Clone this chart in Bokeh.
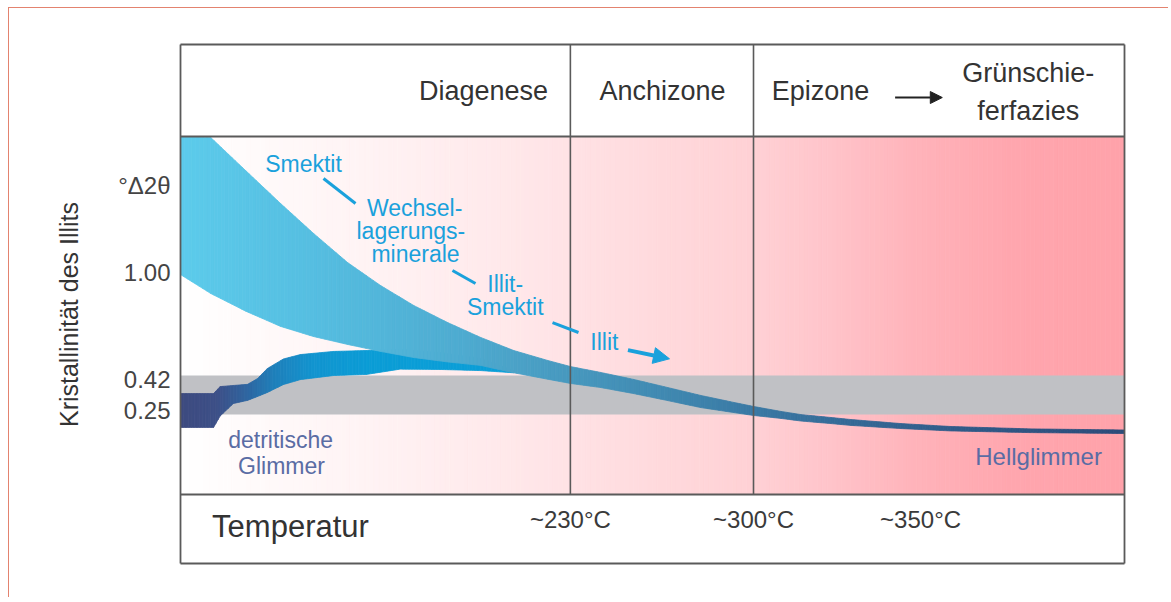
import numpy as np
from bokeh.plotting import figure
from bokeh.models import Range1d, FixedTicker, CustomJSTickFormatter, Arrow, NormalHead
from bokeh.core.properties import value
from bokeh.embed import file_html
from bokeh.resources import INLINE

# ---------------- data ----------------
# x: schematic metamorphic progress (0 = left edge, 100 = right edge)
# y: illite crystallinity in °Δ2θ
zone_names = ["Diagenese", "Anchizone", "Epizone"]
zone_edges = [0.0, 41.3, 60.7, 100.0]
facies_names = ["Grünschie-", "ferfazies"]
temp_labels = ["~230°C", "~300°C", "~350°C"]
temp_pos = [41.3, 60.7, 78.4]
kuebler_ticks = [1.00, 0.42, 0.25]
unit_label = "°Δ2θ"
anchizone_limits = [0.228, 0.440]

clay_x = [0, 3.2, 6.9, 10.6, 14.1, 17.7, 21.2, 24.7, 28.3, 31.8, 35.3, 38.9,
          41.3, 44.5, 48.0, 51.6, 55.1, 58.6, 60.7, 63.6, 65.7, 68.9, 71.0, 76.3, 81.6, 90.0, 100]
clay_upper = [1.739, 1.734, 1.554, 1.375, 1.212, 1.054, 0.929, 0.821, 0.728, 0.647, 0.576, 0.522,
              0.489, 0.457, 0.419, 0.375, 0.332, 0.294, 0.272, 0.245, 0.228, 0.212, 0.201,
              0.179, 0.163, 0.150, 0.144]
clay_lower = [0.989, 0.886, 0.790, 0.707, 0.652, 0.609, 0.571, 0.538, 0.514, 0.495, 0.455, 0.420,
              0.397, 0.375, 0.342, 0.304, 0.266, 0.239, 0.223, 0.207, 0.193, 0.179, 0.169,
              0.152, 0.139, 0.130, 0.125]

det_x = [0, 3.5, 4.2, 5.6, 7.1, 8.15, 9.2, 10.9, 12.7, 16.2, 19.7, 23.3, 27.5, 31.8, 35.3]
det_upper = [0.342, 0.342, 0.380, 0.386, 0.392, 0.423, 0.478, 0.530, 0.554, 0.571, 0.576, 0.582, 0.565, 0.533, 0.467]
det_lower = [0.158, 0.158, 0.220, 0.288, 0.305, 0.326, 0.348, 0.391, 0.418, 0.440, 0.446, 0.475, 0.473, 0.467, 0.455]

mineral_names = ["Smektit", "Wechsel-", "lagerungs-", "minerale", "Illit-", "Smektit", "Illit"]
detrital_names = ["detritische", "Glimmer"]
final_name = ["Hellglimmer"]

# ---------------- styles / layout ----------------
FONT = "Liberation Sans"
BLUE_TXT = "#1aa1dc"
MICA_TXT = "#5a6ca4"
LINE = "#5a5a5a"

bg_stop_x = [0, 8, 20, 35, 41.3, 50, 60.7, 68, 78, 88, 100]
bg_stop_c = ["#ffffff", "#fffafa", "#fff3f4", "#ffe8ea", "#ffe2e5", "#ffdadd",
             "#ffd1d5", "#ffc5cb", "#ffb3ba", "#ffa6ae", "#ffa2aa"]
clay_stop_x = [0, 15, 30, 41, 50, 60, 72, 85, 100]
clay_stop_c = ["#5ccbeb", "#55bde0", "#4eabd0", "#4799bf", "#418bb3", "#3a7aa5",
               "#346895", "#2f5886", "#2c4c7a"]
det_stop_x = [0, 4, 7, 10, 14, 20, 36]
det_stop_c = ["#3d4a7f", "#3d5088", "#2f65a0", "#1f80bb", "#1294cf", "#0b9dd6", "#0b9fd8"]

Y_TOP_BOX = 2.239
Y_HEAD = 1.739
Y_FOOT = -0.2065
Y_BOT_BOX = -0.5815
Y_UNIT = 1.473


def hex_rgb(h):
    h = h.lstrip("#")
    return [int(h[i:i + 2], 16) for i in (0, 2, 4)]


def colour_at(xq, sx, sc):
    rgb = np.array([hex_rgb(c) for c in sc], dtype=float)
    r, g, b = (np.interp(xq, sx, rgb[:, k]) for k in range(3))
    return "#%02x%02x%02x" % (int(round(r)), int(round(g)), int(round(b)))


def band_strips(x, lo, hi, step):
    xs, ys, xm = [], [], []
    for i in range(len(x) - 1):
        n = max(1, int(np.ceil((x[i + 1] - x[i]) / step)))
        for k in range(n):
            ta, tb = k / n, (k + 1) / n
            xa = x[i] + (x[i + 1] - x[i]) * ta
            xb = x[i] + (x[i + 1] - x[i]) * tb
            la = lo[i] + (lo[i + 1] - lo[i]) * ta
            lb = lo[i] + (lo[i + 1] - lo[i]) * tb
            ha = hi[i] + (hi[i + 1] - hi[i]) * ta
            hb = hi[i] + (hi[i + 1] - hi[i]) * tb
            xs.append([xa, xb, xb, xa])
            ys.append([la, lb, hb, ha])
            xm.append(0.5 * (xa + xb))
    return xs, ys, xm


p = figure(width=1160, height=590,
           x_range=Range1d(-0.212, 100.212), y_range=Range1d(-0.7065, 2.25),
           output_backend="svg", toolbar_location=None, x_axis_location=None,
           min_border_left=169, min_border_right=43, min_border_top=34, min_border_bottom=12)
p.outline_line_color = None
p.grid.visible = False
p.background_fill_color = "white"
p.border_fill_color = "white"
p.styles = {"border-top": "1px solid #e3836f", "border-left": "1px solid #e3836f",
            "margin-left": "8px", "margin-top": "7px"}

# y axis
ax = p.yaxis[0]
ax.ticker = FixedTicker(ticks=[Y_UNIT] + kuebler_ticks)
ax.formatter = CustomJSTickFormatter(
    args=dict(unit=unit_label, ypos=Y_UNIT),
    code="return Math.abs(tick - ypos) < 1e-6 ? unit : tick.toFixed(2);")
ax.axis_line_color = None
ax.major_tick_line_color = None
ax.minor_tick_line_color = None
ax.major_tick_out = 0
ax.major_label_standoff = 8
ax.major_label_text_font = FONT
ax.major_label_text_font_size = "24px"
ax.major_label_text_color = "#444444"
ax.axis_label = "Kristallinität des Illits"
ax.axis_label_text_font = FONT
ax.axis_label_text_font_size = "25px"
ax.axis_label_text_font_style = "normal"
ax.axis_label_text_color = "#333333"
ax.axis_label_standoff = 32

# background gradient
n_bg = 200
bl = np.linspace(0, 100, n_bg + 1)
bg_cols = [colour_at(0.5 * (bl[i] + bl[i + 1]), bg_stop_x, bg_stop_c) for i in range(n_bg)]
p.quad(left=bl[:-1], right=bl[1:], bottom=Y_FOOT, top=Y_HEAD,
       fill_color=bg_cols, line_color=bg_cols, line_width=0.8)

# grey anchizone band
p.quad(left=[zone_edges[0]], right=[zone_edges[-1]],
       bottom=[anchizone_limits[0]], top=[anchizone_limits[1]],
       fill_color="#c0c1c5", line_color=None)

# detrital mica curve
dxs, dys, dxm = band_strips(det_x, det_lower, det_upper, 0.3)
dcols = [colour_at(v, det_stop_x, det_stop_c) for v in dxm]
p.patches(dxs, dys, fill_color=dcols, line_color=dcols, line_width=0.8)

# clay mineral band
cxs, cys, cxm = band_strips(clay_x, clay_lower, clay_upper, 0.4)
ccols = [colour_at(v, clay_stop_x, clay_stop_c) for v in cxm]
p.patches(cxs, cys, fill_color=ccols, line_color=ccols, line_width=0.8)

# zone divider lines
inner = zone_edges[1:-1]
p.segment(x0=inner, y0=[Y_FOOT] * len(inner), x1=inner, y1=[Y_TOP_BOX] * len(inner),
          line_color=LINE, line_width=1.6)
# table frame
p.segment(x0=[0, 0, 0, 0, 0, 100], y0=[Y_TOP_BOX, Y_HEAD, Y_FOOT, Y_BOT_BOX, Y_BOT_BOX, Y_BOT_BOX],
          x1=[100, 100, 100, 100, 0, 100], y1=[Y_TOP_BOX, Y_HEAD, Y_FOOT, Y_BOT_BOX, Y_TOP_BOX, Y_TOP_BOX],
          line_color=LINE, line_width=1.8)

# header texts
p.text(x=[32.1, 51.06, 67.8], y=[1.989] * 3, text=zone_names,
       text_font=value(FONT), text_font_size="27px", text_color="#333333",
       text_align="center", text_baseline="middle")
p.text(x=[89.8, 89.8], y=[2.082, 1.880], text=facies_names,
       text_font=value(FONT), text_font_size="27px", text_color="#333333",
       text_align="center", text_baseline="middle")
p.add_layout(Arrow(end=NormalHead(size=12, fill_color="#222222", line_color="#222222"),
                   x_start=75.7, y_start=1.951, x_end=80.7, y_end=1.951,
                   line_color="#222222", line_width=2))

# footer texts
p.text(x=[11.65], y=[-0.380], text=["Temperatur"],
       text_font=value(FONT), text_font_size="31px", text_color="#333333",
       text_align="center", text_baseline="middle")
p.text(x=temp_pos, y=[-0.342] * 3, text=temp_labels,
       text_font=value(FONT), text_font_size="24px", text_color="#3a3a3a",
       text_align="center", text_baseline="middle")

# mineral labels
p.text(x=[13.03, 24.8, 24.4, 24.9, 34.4, 34.4, 44.9],
       y=[1.592, 1.353, 1.228, 1.103, 0.935, 0.815, 0.620], text=mineral_names,
       text_font=value(FONT), text_font_size="23px", text_color=BLUE_TXT,
       text_align="center", text_baseline="middle")
p.segment(x0=[15.15, 28.81, 39.41], y0=[1.511, 1.011, 0.728],
          x1=[18.54, 31.25, 42.16], y1=[1.375, 0.940, 0.674],
          line_color=BLUE_TXT, line_width=3)
p.add_layout(Arrow(end=NormalHead(size=16, fill_color=BLUE_TXT, line_color=BLUE_TXT),
                   x_start=47.4, y_start=0.578, x_end=51.8, y_end=0.531,
                   line_color=BLUE_TXT, line_width=4))

p.text(x=[10.6, 10.7], y=[0.087, -0.054], text=detrital_names,
       text_font=value(FONT), text_font_size="23px", text_color=MICA_TXT,
       text_align="center", text_baseline="middle")
p.text(x=[90.9], y=[0.0], text=final_name,
       text_font=value(FONT), text_font_size="24px", text_color=MICA_TXT,
       text_align="center", text_baseline="middle")

open("out.html", "w").write(file_html(p, INLINE))
